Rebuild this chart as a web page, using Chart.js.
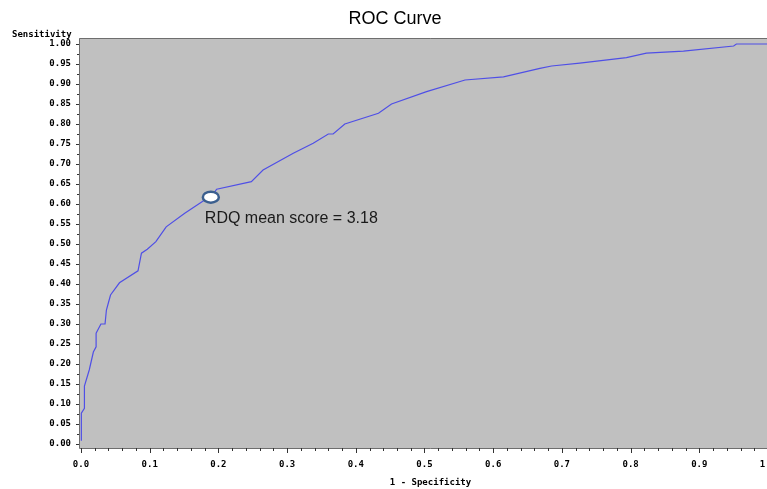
<!DOCTYPE html>
<html lang="en">

<head>
    <meta charset="UTF-8">
    <script src="https://cdn.jsdelivr.net/npm/chart.js"></script>
    <title>ROC Curve</title>
    <style>
        body { margin: 0; overflow: hidden; background: #ffffff; }
        #wrap { width: 790px; height: 489px; }
    </style>
</head>

<body>
    <div id="wrap">
        <canvas id="graficoRoc" width="790" height="489"></canvas>
    </div>

    <script>
        // curva ROC (1 - especificidade, sensibilidade)
        const fpr = [0.0005, 0.0005, 0.005, 0.005, 0.012, 0.018, 0.022, 0.022, 0.029, 0.035, 0.037, 0.041,
            0.043, 0.056, 0.083, 0.088, 0.0965, 0.109, 0.124, 0.151, 0.180, 0.189, 0.1975, 0.248, 0.265,
            0.309, 0.338, 0.360, 0.367, 0.384, 0.433, 0.452, 0.503, 0.559, 0.615, 0.668, 0.685, 0.726,
            0.794, 0.823, 0.877, 0.950, 0.954, 1.0];
        const tpr = [0.008, 0.077, 0.089, 0.145, 0.185, 0.230, 0.243, 0.277, 0.300, 0.300, 0.335, 0.360,
            0.3725, 0.403, 0.433, 0.477, 0.487, 0.506, 0.543, 0.577, 0.610, 0.617, 0.637, 0.656, 0.685,
            0.727, 0.752, 0.775, 0.775, 0.800, 0.827, 0.850, 0.881, 0.910, 0.918, 0.939, 0.945, 0.952,
            0.966, 0.977, 0.982, 0.995, 1.0, 1.0];

        const xTicks = [0.0, 0.1, 0.2, 0.3, 0.4, 0.5, 0.6, 0.7, 0.8, 0.9, 1.0];
        const yTicks = [0.00, 0.05, 0.10, 0.15, 0.20, 0.25, 0.30, 0.35, 0.40, 0.45, 0.50,
            0.55, 0.60, 0.65, 0.70, 0.75, 0.80, 0.85, 0.90, 0.95, 1.00];
        const xMinor = 0.02;
        const yMinor = 0.025;

        const pontoRdq = { x: 0.189, y: 0.617 };
        const textoRdq = 'RDQ mean score = 3.18';

        const fonteEixo = 'bold 9px "DejaVu Sans Mono"';

        const pontos = fpr.map((v, i) => ({ x: v, y: tpr[i] }));

        function listaMenores(passo, fim) {
            const out = [];
            for (let i = 0; i * passo <= fim + 1e-9; i++) out.push(+(i * passo).toFixed(4));
            return out;
        }

        const extras = {
            id: 'extras',
            beforeDraw(chart) {
                const { ctx, chartArea: a } = chart;
                ctx.save();
                ctx.fillStyle = '#c0c0c0';
                ctx.fillRect(a.left, a.top, a.right - a.left, a.bottom - a.top);
                ctx.restore();
            },
            afterDraw(chart) {
                const { ctx, chartArea: a, scales } = chart;
                const sx = scales.x, sy = scales.y;
                ctx.save();

                // moldura
                ctx.strokeStyle = '#6e6e6e';
                ctx.lineWidth = 1;
                ctx.beginPath();
                ctx.moveTo(a.left + 0.5, a.bottom + 0.5);
                ctx.lineTo(a.left + 0.5, a.top + 0.5);
                ctx.lineTo(a.right, a.top + 0.5);
                ctx.moveTo(a.left + 0.5, a.bottom + 0.5);
                ctx.lineTo(a.right, a.bottom + 0.5);
                ctx.stroke();

                // marcas dos eixos
                ctx.strokeStyle = '#333333';
                ctx.beginPath();
                listaMenores(xMinor, 1.0).forEach(v => {
                    const px = Math.round(sx.getPixelForValue(v)) + 0.5;
                    const maior = xTicks.some(t => Math.abs(t - v) < 1e-6);
                    ctx.moveTo(px, a.bottom);
                    ctx.lineTo(px, a.bottom + (maior ? 5 : 3));
                });
                listaMenores(yMinor, 1.0).forEach(v => {
                    const py = Math.round(sy.getPixelForValue(v)) + 0.5;
                    const maior = yTicks.some(t => Math.abs(t - v) < 1e-6);
                    ctx.moveTo(a.left, py);
                    ctx.lineTo(a.left - (maior ? 3 : 2), py);
                });
                ctx.stroke();

                // titulo e rotulos
                ctx.fillStyle = '#000000';
                ctx.font = '18px "Liberation Sans"';
                ctx.textAlign = 'center';
                ctx.textBaseline = 'middle';
                ctx.fillText('ROC Curve', chart.width / 2, 19);

                ctx.font = fonteEixo;
                ctx.fillText('1 - Specificity', (a.left + a.right) / 2, 483);
                ctx.textAlign = 'left';
                ctx.fillText('Sensitivity', 12, 35);

                // ponto RDQ
                const cx = sx.getPixelForValue(pontoRdq.x);
                const cy = sy.getPixelForValue(pontoRdq.y);
                ctx.beginPath();
                ctx.ellipse(cx, cy, 8, 5.5, 0, 0, Math.PI * 2);
                ctx.fillStyle = '#ffffff';
                ctx.fill();
                ctx.lineWidth = 2.5;
                ctx.strokeStyle = '#3b5f8e';
                ctx.stroke();

                ctx.fillStyle = '#1a1a1a';
                ctx.font = '16px "Liberation Sans"';
                ctx.textAlign = 'left';
                ctx.fillText(textoRdq, cx - 6, cy + 21);
                ctx.restore();
            }
        };

        new Chart(document.getElementById('graficoRoc').getContext('2d'), {
            type: 'scatter',
            data: {
                datasets: [{
                    label: 'ROC',
                    data: pontos,
                    showLine: true,
                    borderColor: '#4f4fe6',
                    borderWidth: 1.2,
                    pointRadius: 0,
                    tension: 0
                }]
            },
            options: {
                responsive: false,
                animation: false,
                layout: { padding: { left: 0, top: 38, right: 8, bottom: 0 } },
                plugins: {
                    legend: { display: false },
                    tooltip: { enabled: false }
                },
                scales: {
                    x: {
                        type: 'linear',
                        min: -0.0029,
                        max: 1.0204,
                        border: { display: false },
                        grid: { display: false },
                        afterBuildTicks: s => { s.ticks = xTicks.map(v => ({ value: v })); },
                        afterFit: s => { s.height = 41; },
                        ticks: {
                            padding: 3,
                            maxRotation: 0,
                            autoSkip: false,
                            color: '#000000',
                            font: { family: 'DejaVu Sans Mono', size: 9, weight: 'bold' },
                            callback: v => v.toFixed(1)
                        }
                    },
                    y: {
                        type: 'linear',
                        min: -0.01,
                        max: 1.015,
                        border: { display: false },
                        grid: { display: false },
                        afterBuildTicks: s => { s.ticks = yTicks.map(v => ({ value: v })); },
                        afterFit: s => { s.width = 79; },
                        ticks: {
                            padding: 0,
                            autoSkip: false,
                            color: '#000000',
                            font: { family: 'DejaVu Sans Mono', size: 9, weight: 'bold' },
                            callback: v => v.toFixed(2)
                        }
                    }
                }
            },
            plugins: [extras]
        });
    </script>
</body>

</html>
